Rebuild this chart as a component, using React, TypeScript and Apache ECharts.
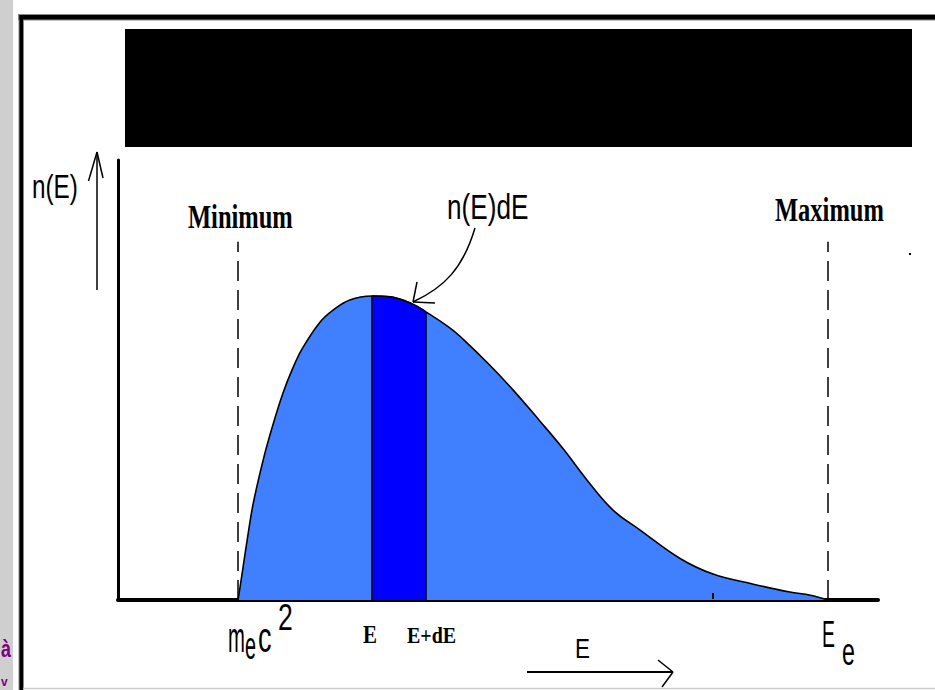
import React, { useEffect, useRef } from "react";
import * as echarts from "echarts";

// Beta-decay energy spectrum (arbitrary units; x = energy, y = n(E))
const energy = [15.8, 16.4, 17.1, 17.8, 19.1, 20.3, 21.7, 23.0, 24.3, 26.6, 28.3, 30.5, 33.4, 35.8, 38.7, 40.5, 43.7, 45.4, 48.9, 52.0, 55.5, 58.6, 61.7, 65.1, 68.7, 73.9, 78.3, 83.6, 88.4, 91.1, 93.4];
const counts = [0, 6.8, 14.8, 22.0, 31.8, 39.3, 47.0, 52.7, 57.3, 63.2, 65.9, 68.2, 69.1, 68.9, 67.3, 65.5, 61.8, 59.3, 53.4, 47.7, 40.7, 34.3, 27.3, 20.5, 15.9, 9.5, 5.9, 3.6, 1.8, 1.1, 0];
const minEnergy = 15.8; // m_e c^2
const maxEnergy = 93.4; // E_e
const bandStart = 33.4; // E
const bandEnd = 40.5; // E + dE
const guideTop = 81.4;

const SANS = "'Liberation Sans', Arial, sans-serif";
const SERIF = "'Liberation Serif', 'Times New Roman', serif";

function txt(
  text: string,
  x: number,
  y: number,
  fontSize: number,
  scaleX: number,
  scaleY: number,
  family: string,
  weight: string = "normal",
  fill: string = "#000",
  align: string = "left"
) {
  return {
    type: "text",
    x,
    y,
    scaleX,
    scaleY,
    z: 100,
    style: {
      text,
      fill,
      fontSize,
      fontFamily: family,
      fontWeight: weight,
      textAlign: align,
      align,
      textVerticalAlign: "middle",
      verticalAlign: "middle",
    },
  };
}

function seg(x1: number, y1: number, x2: number, y2: number, w: number, color = "#000") {
  return {
    type: "line",
    z: 100,
    shape: { x1, y1, x2, y2 },
    style: { stroke: color, lineWidth: w },
  };
}

export default function App() {
  const ref = useRef<HTMLDivElement>(null);

  useEffect(() => {
    if (!ref.current) return;
    const chart = echarts.init(ref.current, undefined, { renderer: "svg" });
    const curve = energy.map((e, i) => [e, counts[i]]);
    const band = curve.filter((p) => p[0] >= bandStart && p[0] <= bandEnd);
    const yAt = (e: number) => counts[energy.indexOf(e)];

    const option = {
      animation: false,
      backgroundColor: "#fff",
      grid: { left: 118, right: 57, top: 160, bottom: 90 },
      xAxis: {
        type: "value",
        min: 0,
        max: 100,
        axisLine: { show: true, lineStyle: { color: "#000", width: 4 } },
        axisTick: { show: false },
        axisLabel: { show: false },
        splitLine: { show: false },
      },
      yAxis: {
        type: "value",
        min: 0,
        max: 100,
        axisLine: { show: true, lineStyle: { color: "#000", width: 3 } },
        axisTick: { show: false },
        axisLabel: { show: false },
        splitLine: { show: false },
      },
      series: [
        {
          type: "line",
          data: curve,
          smooth: 0.4,
          symbol: "none",
          lineStyle: { color: "#000", width: 1.6 },
          areaStyle: { color: "#4080ff", opacity: 1 },
          z: 2,
          markLine: {
            silent: true,
            symbol: "none",
            label: { show: false },
            lineStyle: { color: "#000", width: 1.5, type: [20, 9] },
            data: [
              [{ coord: [minEnergy, 0] }, { coord: [minEnergy, guideTop] }],
              [{ coord: [maxEnergy, 0] }, { coord: [maxEnergy, guideTop] }],
            ],
          },
        },
        {
          type: "line",
          data: band,
          smooth: 0.4,
          symbol: "none",
          lineStyle: { color: "#000", width: 1.6 },
          areaStyle: { color: "#0000ff", opacity: 1 },
          z: 3,
          markLine: {
            silent: true,
            symbol: "none",
            label: { show: false },
            lineStyle: { color: "#000", width: 1.5, type: "solid" },
            data: [
              [{ coord: [bandStart, 0] }, { coord: [bandStart, yAt(bandStart)] }],
              [{ coord: [bandEnd, 0] }, { coord: [bandEnd, yAt(bandEnd)] }],
            ],
          },
        },
      ],
      graphic: [
        // left textured strip
        { type: "rect", shape: { x: 0, y: 0, width: 13, height: 690 }, style: { fill: "#cfcfcf" } },
        // frame
        { type: "rect", shape: { x: 18, y: 14, width: 917, height: 6.5 }, style: { fill: "#8a8a8a" } },
        { type: "rect", shape: { x: 18.5, y: 14, width: 5.5, height: 676 }, style: { fill: "#8a8a8a" } },
        { type: "rect", shape: { x: 19.5, y: 15, width: 916, height: 4.5 }, style: { fill: "#000" } },
        { type: "rect", shape: { x: 19.5, y: 15, width: 3.5, height: 675 }, style: { fill: "#000" } },
        seg(23, 688.5, 935, 688.5, 1.5, "#cccccc"),
        // black title block
        { type: "rect", shape: { x: 125, y: 29, width: 787, height: 118 }, style: { fill: "#000" } },
        // y arrow
        seg(97, 290, 97, 152, 1.5),
        seg(97, 152, 88.5, 181, 1.5),
        seg(97, 152, 103, 178, 1.5),
        // x arrow
        seg(527, 672, 673, 672, 2),
        seg(658, 660, 673, 672, 1.5),
        seg(673, 672, 662, 687, 1.5),
        // n(E)dE pointer
        {
          type: "bezierCurve",
          z: 100,
          shape: { x1: 475, y1: 228, cpx1: 463, cpy1: 268, cpx2: 445, cpy2: 287, x2: 413, y2: 302 },
          style: { stroke: "#000", lineWidth: 1.5, fill: "none" },
        },
        seg(413, 302, 417, 282, 1.5),
        seg(413, 302, 435, 303, 1.5),
        // small marks
        { type: "rect", z: 100, shape: { x: 909, y: 253, width: 2, height: 2 }, style: { fill: "#000" } },
        seg(713, 593, 713, 599, 2),
        // labels
        txt("n(E)", 32, 187, 30, 0.81, 1.1, SANS),
        txt("n(E)dE", 447, 207.5, 31.5, 0.83, 1.1, SANS),
        txt("Minimum", 188, 216.5, 24.5, 1, 1.36, SERIF, "bold"),
        txt("Maximum", 775, 210, 24.5, 1, 1.36, SERIF, "bold"),
        txt("m", 228, 637.5, 26, 0.78, 1.6, SANS),
        txt("e", 245, 645.5, 22, 0.9, 1.8, SANS),
        txt("c", 258, 637.5, 27, 1, 1.6, SANS),
        txt("2", 278, 616.5, 28, 0.95, 1.35, SANS),
        txt("E", 363, 635, 21, 1, 1.15, SERIF, "bold"),
        txt("E+dE", 407, 635, 20, 1, 1.2, SERIF, "bold"),
        txt("E", 575, 648, 27, 0.83, 1.04, SANS),
        txt("E", 822, 633.5, 24, 0.81, 1.57, SANS),
        txt("e", 842, 651.5, 28, 0.83, 1.38, SANS),
        txt("à", 1, 649, 18, 1, 1.3, SANS, "bold", "#800080"),
        txt("v", 1, 682, 12, 1, 1, SANS, "bold", "#800080"),
      ],
    };
    chart.setOption(option as any);
    return () => chart.dispose();
  }, []);

  return (
    <div
      ref={ref}
      style={{ position: "fixed", left: 0, top: 0, width: 935, height: 690, background: "#fff" }}
    />
  );
}
